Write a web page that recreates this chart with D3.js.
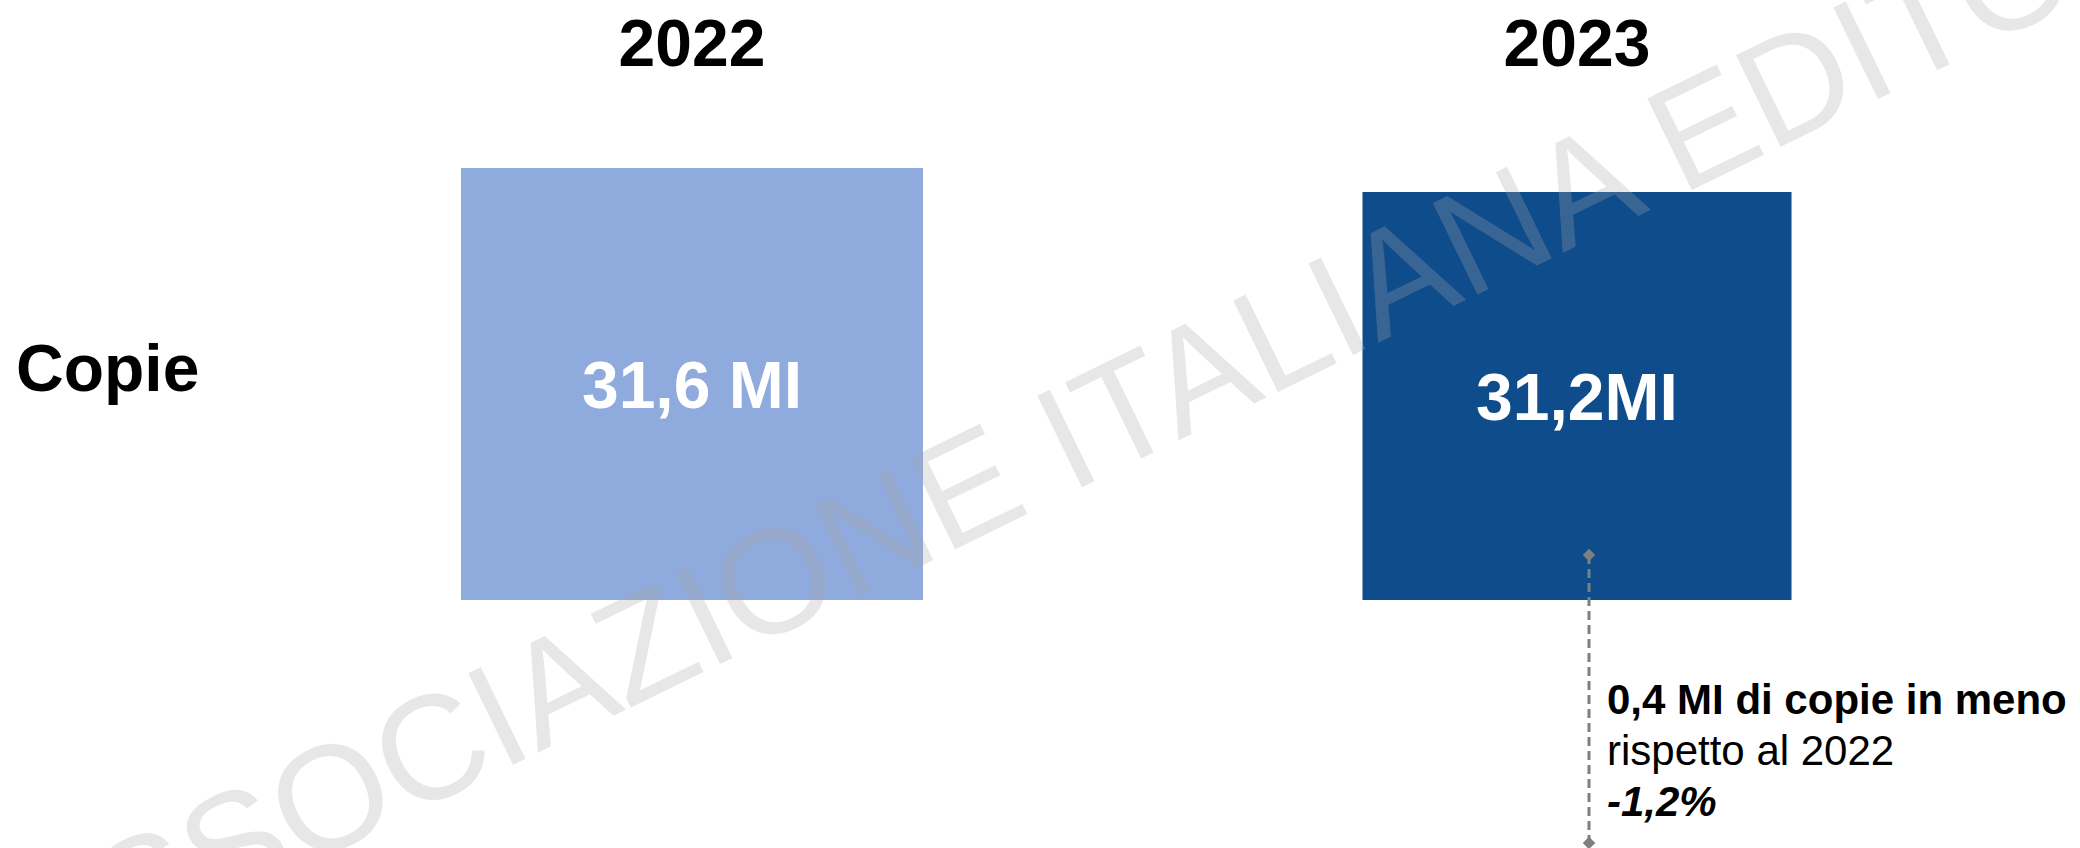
<!DOCTYPE html>
<html>
<head>
<meta charset="utf-8">
<script src="https://cdn.jsdelivr.net/npm/d3@7"></script>
<style>
    body { margin: 0; background: #fff; }
    svg { display: block; }
</style>
</head>
<body>
<div id="wrapper"></div>
<script>
/*global d3*/

// data
const years = ["2022", "2023"]
const copies = [31.6, 31.2]
const valueLabels = ["31,6 MI", "31,2MI"]
const rowLabels = ["Copie"]
const noteLines = ["0,4 MI di copie in meno", "rispetto al 2022", "-1,2%"]
const watermarkText = "ASSOCIAZIONE ITALIANA EDITORI"

function drawChart() {

    // 1. accessors
    const dataset = years.map((y, i) => ({ year: y, value: copies[i], label: valueLabels[i] }))
    const xAccessor = d => d.year
    const vAccessor = d => d.value

    // 2. dims
    let dims = {
        width: 2080,
        height: 848,
        boxBottom: 600,
    }
    const font = "'Liberation Sans', Arial, sans-serif"

    // 3. canvas
    const wrapper = d3.select("#wrapper")
        .append("svg")
        .attr("width", dims.width)
        .attr("height", dims.height)

    const bounds = wrapper.append("g")

    // 4. scales
    const xScale = d3.scalePoint()
        .domain(years)
        .range([692, 1577])

    // boxes are not drawn from zero, so the scale only spans the shown values
    const wScale = d3.scaleLinear()
        .domain(d3.extent(copies))
        .range([429, 462])

    const hScale = d3.scaleLinear()
        .domain(d3.extent(copies))
        .range([408, 432])

    const colorScale = d3.scaleOrdinal()
        .domain(years)
        .range(["#8faadc", "#0f4c8c"])

    const yRow = d3.scalePoint()
        .domain(rowLabels)
        .range([391, 391])

    // 5. year headers
    bounds.selectAll(".year")
        .data(years)
        .join("text")
        .attr("class", "year")
        .attr("x", d => xScale(d))
        .attr("y", 66)
        .attr("text-anchor", "middle")
        .style("font-family", font)
        .style("font-weight", "bold")
        .style("font-size", "66px")
        .attr("fill", "#000")
        .text(d => d)

    // row label
    bounds.selectAll(".row")
        .data(rowLabels)
        .join("text")
        .attr("class", "row")
        .attr("x", 16)
        .attr("y", d => yRow(d))
        .style("font-family", font)
        .style("font-weight", "bold")
        .style("font-size", "66px")
        .attr("fill", "#000")
        .text(d => d)

    // 6. boxes
    const boxes = bounds.selectAll(".box")
        .data(dataset)
        .join("g")
        .attr("class", "box")

    boxes.append("rect")
        .attr("x", d => xScale(xAccessor(d)) - wScale(vAccessor(d)) / 2)
        .attr("y", d => dims.boxBottom - hScale(vAccessor(d)))
        .attr("width", d => wScale(vAccessor(d)))
        .attr("height", d => hScale(vAccessor(d)))
        .attr("fill", d => colorScale(xAccessor(d)))

    boxes.append("text")
        .attr("x", d => xScale(xAccessor(d)))
        .attr("y", d => dims.boxBottom - hScale(vAccessor(d)) / 2 + 24)
        .attr("text-anchor", "middle")
        .style("font-family", font)
        .style("font-weight", "bold")
        .style("font-size", "66px")
        .attr("fill", "#fff")
        .text(d => d.label)

    // 7. connector and note
    const last = dataset[dataset.length - 1]
    const lineX = xScale(xAccessor(last)) + 12
    const lineTop = dims.boxBottom - 45
    const lineBottom = 843

    bounds.append("line")
        .attr("x1", lineX)
        .attr("x2", lineX)
        .attr("y1", lineTop)
        .attr("y2", lineBottom)
        .attr("stroke", "#7f7f7f")
        .attr("stroke-width", 3)
        .attr("stroke-dasharray", "9,5")

    const diamond = d3.symbol()
        .type(d3.symbolDiamond2 || d3.symbolDiamond)
        .size(100)

    bounds.selectAll(".tip")
        .data([lineTop, lineBottom])
        .join("path")
        .attr("class", "tip")
        .attr("d", diamond)
        .attr("transform", d => `translate(${lineX},${d})`)
        .attr("fill", "#7f7f7f")

    bounds.selectAll(".note")
        .data(noteLines)
        .join("text")
        .attr("class", "note")
        .attr("x", lineX + 18)
        .attr("y", (d, i) => 714 + i * 51)
        .style("font-family", font)
        .style("font-size", "42px")
        .style("font-weight", (d, i) => i === 1 ? "normal" : "bold")
        .style("font-style", (d, i) => i === 2 ? "italic" : "normal")
        .attr("fill", "#000")
        .text(d => d)

    // 8. watermark on top
    wrapper.append("text")
        .attr("transform", "translate(35,998) rotate(-26)")
        .style("font-family", font)
        .style("font-size", "148px")
        .attr("fill", "rgb(170,170,170)")
        .attr("fill-opacity", 0.28)
        .text(watermarkText)
}

drawChart()
</script>
</body>
</html>
